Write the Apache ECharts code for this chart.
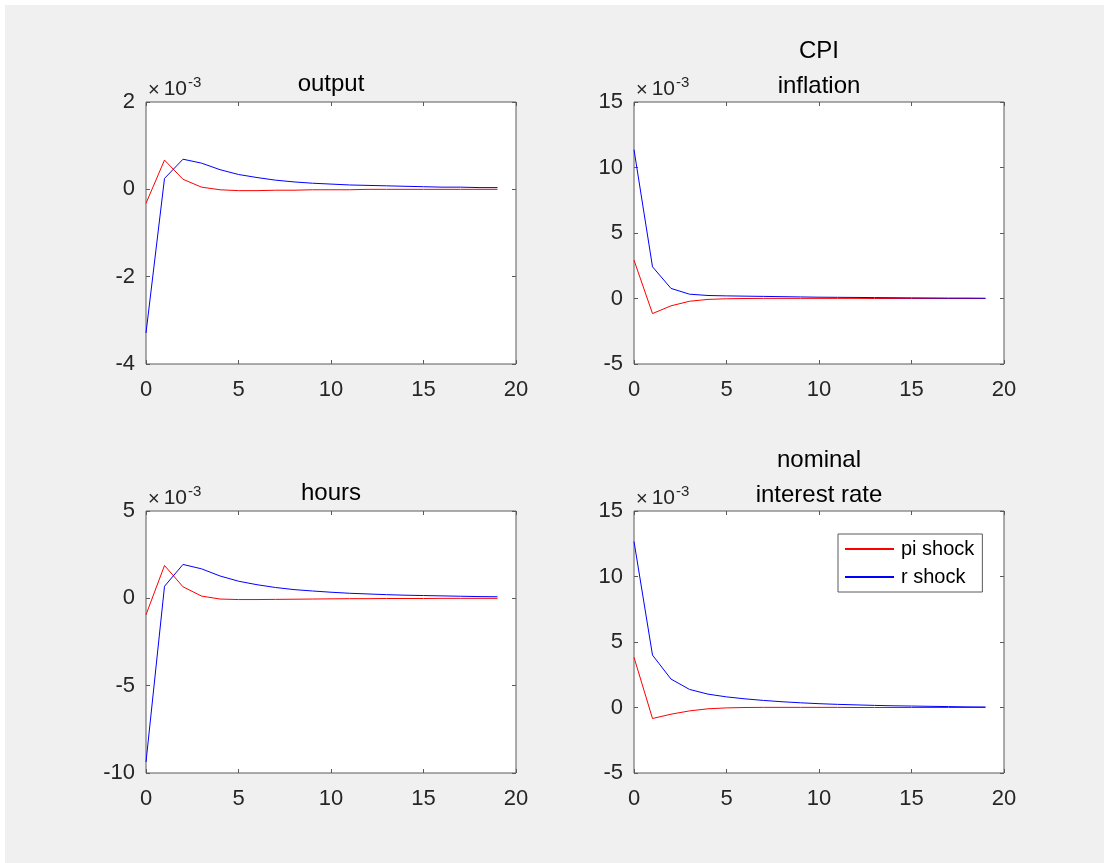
<!DOCTYPE html>
<html>
<head>
<meta charset="utf-8">
<script src="https://cdn.jsdelivr.net/npm/echarts@6/dist/echarts.min.js"></script>
<style>
  html, body { margin: 0; padding: 0; background: #fff; }
  #wrap { position: relative; width: 1104px; height: 863px; }
  #bg { position: absolute; left: 5px; top: 5px; right: 0; bottom: 0; background: #f0f0f0; }
  #chart { position: absolute; left: 0; top: 0; width: 1104px; height: 863px; }
</style>
</head>
<body>
<div id="wrap">
  <div id="bg"></div>
  <div id="chart"></div>
</div>
<script>
// impulse responses, values in units of 1e-3
var periods = [0, 1, 2, 3, 4, 5, 6, 7, 8, 9, 10, 11, 12, 13, 14, 15, 16, 17, 18, 19]

var outputPi = [-0.32, 0.67, 0.23, 0.05, -0.01, -0.03, -0.03, -0.02, -0.02, -0.01, -0.01, -0.01, 0, 0, 0, 0, 0, 0, 0, 0]
var outputR = [-3.29, 0.25, 0.69, 0.60, 0.45, 0.34, 0.27, 0.21, 0.17, 0.14, 0.12, 0.10, 0.09, 0.08, 0.07, 0.06, 0.05, 0.05, 0.04, 0.04]

var inflationPi = [2.93, -1.15, -0.56, -0.21, -0.07, -0.02, 0, 0.01, 0.01, 0.01, 0.01, 0.01, 0.01, 0, 0, 0, 0, 0, 0, 0]
var inflationR = [11.36, 2.42, 0.77, 0.33, 0.23, 0.20, 0.18, 0.16, 0.14, 0.12, 0.10, 0.09, 0.08, 0.07, 0.06, 0.05, 0.04, 0.03, 0.03, 0.02]

var hoursPi = [-0.94, 1.88, 0.66, 0.13, -0.04, -0.07, -0.07, -0.06, -0.05, -0.04, -0.03, -0.02, -0.02, -0.01, -0.01, -0.01, 0, 0, 0, 0]
var hoursR = [-9.37, 0.69, 1.94, 1.69, 1.28, 0.98, 0.78, 0.62, 0.50, 0.42, 0.35, 0.29, 0.25, 0.21, 0.18, 0.16, 0.14, 0.12, 0.10, 0.09]

var nominalPi = [3.83, -0.84, -0.51, -0.26, -0.10, -0.03, 0, 0.01, 0.01, 0.01, 0.01, 0.01, 0, 0, 0, 0, 0, 0, 0, 0]
var nominalR = [12.67, 4.00, 2.17, 1.38, 1.02, 0.81, 0.66, 0.54, 0.44, 0.36, 0.29, 0.24, 0.20, 0.16, 0.13, 0.11, 0.09, 0.07, 0.05, 0.04]

var panelTitles = ['output', 'CPI\ninflation', 'hours', 'nominal\ninterest rate']
var yRanges = [[-4, 2, 2], [-5, 15, 5], [-10, 5, 5], [-5, 15, 5]]
var xTicks = [0, 20, 5]
var seriesNames = ['pi shock', 'r shock']

var panels = [
  [outputPi, outputR],
  [inflationPi, inflationR],
  [hoursPi, hoursR],
  [nominalPi, nominalR]
]

var FONT = '"Liberation Sans", Arial, sans-serif'
var TXT = '#262626'
var AX = '#5a5a5a'

// panel boxes [left, top]
var boxes = [[146, 102], [634, 102], [146, 511], [634, 511]]
var W = 370, H = 262

function pairs(ys) {
  return periods.map(function (p, i) { return [p, ys[i]] })
}

var grid = [], xAxis = [], yAxis = [], series = [], title = [], graphic = []

boxes.forEach(function (b, k) {
  grid.push({
    left: b[0], top: b[1], width: W, height: H,
    show: true, backgroundColor: '#fff', borderColor: AX, borderWidth: 1
  })
  var tick = { show: true, inside: true, length: 4, lineStyle: { color: AX, width: 1 } }
  var noLine = { show: false, onZero: false }
  xAxis.push({
    type: 'value', gridIndex: k, min: xTicks[0], max: xTicks[1], interval: xTicks[2],
    axisLine: noLine, axisTick: tick, splitLine: { show: false },
    axisLabel: { color: TXT, fontSize: 22, fontFamily: FONT, margin: 15 }
  })
  xAxis.push({
    type: 'value', gridIndex: k, position: 'top', min: xTicks[0], max: xTicks[1], interval: xTicks[2],
    axisLine: noLine, axisTick: tick, splitLine: { show: false }, axisLabel: { show: false }
  })
  var yr = yRanges[k]
  yAxis.push({
    type: 'value', gridIndex: k, min: yr[0], max: yr[1], interval: yr[2],
    axisLine: noLine, axisTick: tick, splitLine: { show: false },
    axisLabel: { color: TXT, fontSize: 22, fontFamily: FONT, margin: 11 }
  })
  yAxis.push({
    type: 'value', gridIndex: k, position: 'right', min: yr[0], max: yr[1], interval: yr[2],
    axisLine: noLine, axisTick: tick, splitLine: { show: false }, axisLabel: { show: false }
  })
  var colors = ['#ff0000', '#0000ff']
  panels[k].forEach(function (ys, s) {
    series.push({
      name: seriesNames[s], type: 'line',
      xAxisIndex: 2 * k, yAxisIndex: 2 * k,
      data: pairs(ys), symbol: 'none', smooth: false,
      lineStyle: { color: colors[s], width: 1 }, itemStyle: { color: colors[s] }
    })
  })
  var twoLine = panelTitles[k].indexOf('\n') >= 0
  title.push({
    text: panelTitles[k],
    left: b[0] + W / 2, textAlign: 'center',
    top: b[1] - (twoLine ? 68 : 30), padding: 0,
    textStyle: { color: '#000', fontSize: 24, fontWeight: 'normal', fontFamily: FONT, lineHeight: twoLine ? 35 : 24 }
  })
  graphic.push({
    type: 'text', left: b[0] + 2, top: b[1] - 27,
    style: {
      text: '{x|×}{a|10}{b|-3}',
      rich: {
        x: { fontSize: 20, fontFamily: FONT, fill: TXT, verticalAlign: 'bottom', padding: [0, 4, 0, 0] },
        a: { fontSize: 21, fontFamily: FONT, fill: TXT, verticalAlign: 'bottom' },
        b: { fontSize: 15, fontFamily: FONT, fill: TXT, verticalAlign: 'top', padding: [0, 0, 10, 1] }
      }
    }
  })
})

var chart = echarts.init(document.getElementById('chart'))
chart.setOption({
  animation: false,
  backgroundColor: 'transparent',
  title: title,
  grid: grid,
  xAxis: xAxis,
  yAxis: yAxis,
  series: series,
  graphic: graphic,
  legend: {
    data: seriesNames,
    orient: 'vertical',
    left: 838, top: 534,
    padding: [5, 8, 5, 6],
    itemWidth: 49, itemHeight: 14, itemGap: 8,
    itemStyle: { opacity: 0 },
    backgroundColor: '#fff', borderColor: AX, borderWidth: 1, borderRadius: 0,
    textStyle: { color: '#000', fontSize: 20, fontFamily: FONT, padding: [0, 0, 0, 2] }
  }
})
</script>
</body>
</html>
